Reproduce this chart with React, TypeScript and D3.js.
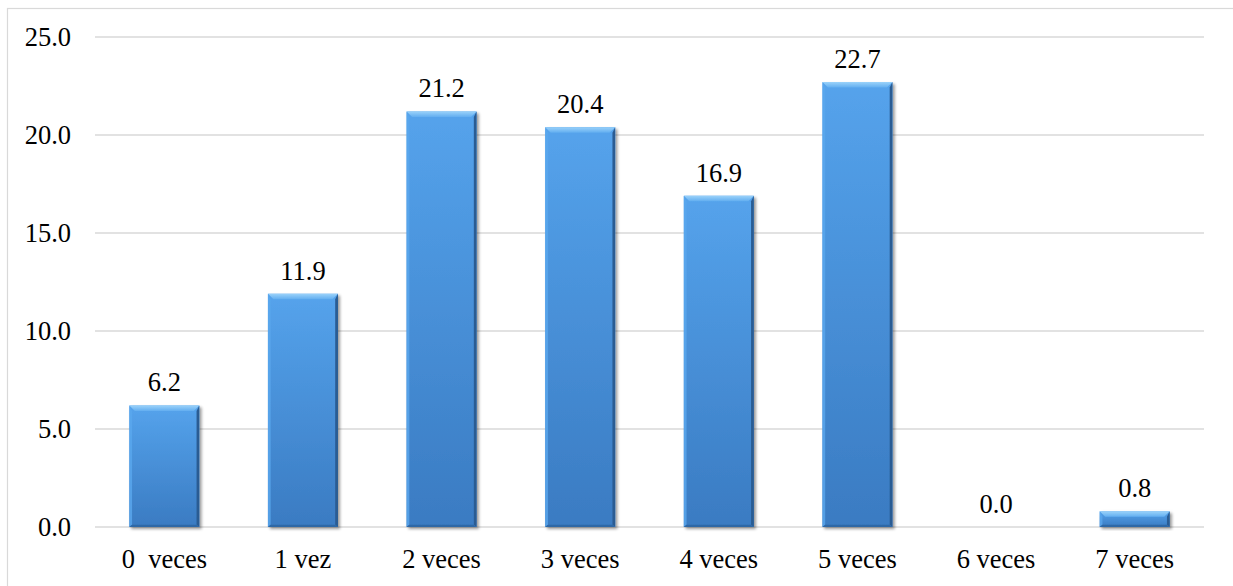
import React from "react";
import * as d3 from "d3";

const categories = ["0  veces", "1 vez", "2 veces", "3 veces", "4 veces", "5 veces", "6 veces", "7 veces"];
const values = [6.2, 11.9, 21.2, 20.4, 16.9, 22.7, 0.0, 0.8];
const yTicks = [0, 5, 10, 15, 20, 25];

const W = 1233;
const H = 586;
const plot = { left: 95, right: 1204, top: 37, bottom: 527 };
const FONT = "Liberation Serif";

export default function App() {
  const x = d3
    .scaleBand<string>()
    .domain(categories)
    .range([plot.left, plot.right])
    .paddingInner(0.495)
    .paddingOuter(0.2475);
  const y = d3.scaleLinear().domain([0, 25]).range([plot.bottom, plot.top]);
  const bw = x.bandwidth();
  const textStyle: React.CSSProperties = { fontFamily: FONT, fontSize: 26.5, whiteSpace: "pre" };

  return (
    <svg
      width={W}
      height={H}
      style={{ position: "absolute", left: 0, top: 0, display: "block", background: "#fff" }}
    >
      <defs>
        <linearGradient id="barBody" x1="0" y1="0" x2="0" y2="1">
          <stop offset="0" stopColor="#55a3ec" />
          <stop offset="1" stopColor="#3a7bc2" />
        </linearGradient>
        <linearGradient id="barTop" x1="0" y1="0" x2="0" y2="1">
          <stop offset="0" stopColor="#9ad2fa" />
          <stop offset="1" stopColor="#62aef0" />
        </linearGradient>
        <filter id="shadow" x="-20%" y="-20%" width="140%" height="140%">
          <feGaussianBlur in="SourceAlpha" stdDeviation="1.5" />
          <feOffset dx="1.5" dy="1.5" result="b" />
          <feComponentTransfer>
            <feFuncA type="linear" slope="0.4" />
          </feComponentTransfer>
          <feMerge>
            <feMergeNode />
            <feMergeNode in="SourceGraphic" />
          </feMerge>
        </filter>
      </defs>

      {/* chart area frame */}
      <rect x={7.5} y={8.5} width={1300} height={700} fill="none" stroke="#d9d9d9" strokeWidth={1.2} />

      {/* gridlines and y labels */}
      {yTicks.map((t) => (
        <g key={t}>
          <line
            x1={plot.left}
            x2={plot.right}
            y1={y(t)}
            y2={y(t)}
            stroke="#d9d9d9"
            strokeWidth={1.6}
          />
          <text x={71} y={y(t) + 9} textAnchor="end" fill="#000" style={textStyle}>
            {t.toFixed(1)}
          </text>
        </g>
      ))}

      {/* bars */}
      {categories.map((c, i) => {
        const v = values[i];
        const x0 = x(c)!;
        const yt = y(v);
        const h = y(0) - yt;
        const bev = Math.min(5.5, h / 2);
        return (
          <g key={c}>
            {h > 0 && (
              <g filter="url(#shadow)">
                <rect x={x0} y={yt} width={bw} height={h} fill="url(#barBody)" />
                {/* top bevel */}
                <polygon
                  points={`${x0},${yt} ${x0 + bw},${yt} ${x0 + bw - bev},${yt + bev} ${x0 + bev},${yt + bev}`}
                  fill="url(#barTop)"
                />
                {/* left bevel */}
                <polygon
                  points={`${x0},${yt} ${x0 + bev * 0.5},${yt + bev} ${x0 + bev * 0.5},${yt + h - bev * 0.4} ${x0},${yt + h}`}
                  fill="#5aa7ee"
                  opacity={0.8}
                />
                {/* right bevel */}
                <polygon
                  points={`${x0 + bw},${yt} ${x0 + bw - bev * 0.5},${yt + bev} ${x0 + bw - bev * 0.5},${yt + h - bev * 0.4} ${x0 + bw},${yt + h}`}
                  fill="#2a5c93"
                />
                {/* bottom bevel */}
                <polygon
                  points={`${x0},${yt + h} ${x0 + bev * 0.5},${yt + h - bev * 0.4} ${x0 + bw - bev * 0.5},${yt + h - bev * 0.4} ${x0 + bw},${yt + h}`}
                  fill="#2f68a6"
                />
              </g>
            )}
            <text x={x0 + bw / 2} y={yt - 14} textAnchor="middle" fill="#000" style={textStyle}>
              {v.toFixed(1)}
            </text>
            <text x={x0 + bw / 2} y={568} textAnchor="middle" fill="#000" style={textStyle}>
              {c}
            </text>
          </g>
        );
      })}
    </svg>
  );
}
